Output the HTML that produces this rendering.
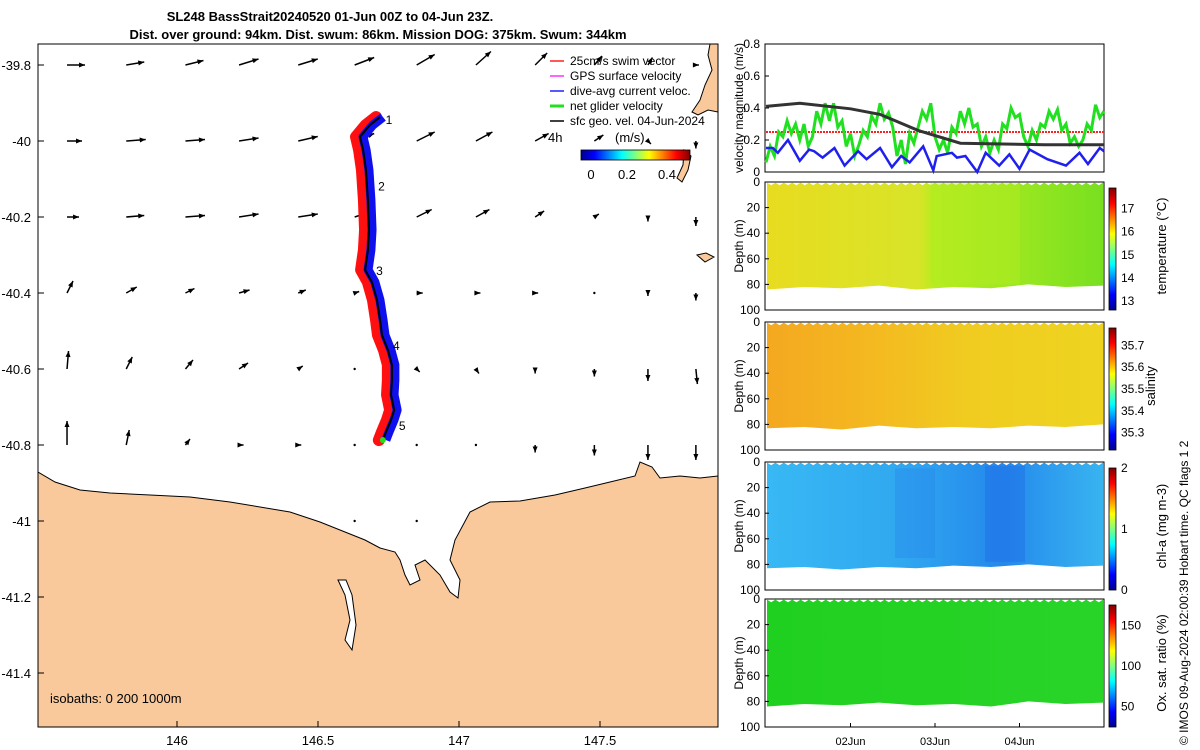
<!DOCTYPE html>
<html><head><meta charset="utf-8">
<style>
html,body{margin:0;padding:0;background:#fff;}
svg{display:block;font-family:"Liberation Sans",sans-serif;}
</style></head>
<body>
<svg id="fig" width="1200" height="750" viewBox="0 0 1200 750" xmlns="http://www.w3.org/2000/svg">
<defs>
<linearGradient id="jet" x1="0" x2="1" y1="0" y2="0">
<stop offset="0" stop-color="#00008f"/><stop offset="0.125" stop-color="#0000ff"/><stop offset="0.375" stop-color="#00ffff"/><stop offset="0.625" stop-color="#ffff00"/><stop offset="0.875" stop-color="#ff0000"/><stop offset="1" stop-color="#800000"/>
</linearGradient>
<linearGradient id="jetv" x1="0" x2="0" y1="1" y2="0">
<stop offset="0" stop-color="#00008f"/><stop offset="0.125" stop-color="#0000ff"/><stop offset="0.375" stop-color="#00ffff"/><stop offset="0.625" stop-color="#ffff00"/><stop offset="0.875" stop-color="#ff0000"/><stop offset="1" stop-color="#800000"/>
</linearGradient>
<linearGradient id="gT" x1="0" x2="1"><stop offset="0" stop-color="#e8dc20"/><stop offset="0.45" stop-color="#d8e428"/><stop offset="0.5" stop-color="#b8ec20"/><stop offset="0.7" stop-color="#a0e820"/><stop offset="1" stop-color="#78e020"/></linearGradient>
<linearGradient id="gS" x1="0" x2="1"><stop offset="0" stop-color="#f4a820"/><stop offset="0.3" stop-color="#f4b820"/><stop offset="0.6" stop-color="#f0cc20"/><stop offset="1" stop-color="#eed420"/></linearGradient>
<linearGradient id="gC" x1="0" x2="1"><stop offset="0" stop-color="#38b8f4"/><stop offset="0.4" stop-color="#30a8f0"/><stop offset="0.7" stop-color="#2488ec"/><stop offset="1" stop-color="#38b4f0"/></linearGradient>
<linearGradient id="gO" x1="0" x2="1"><stop offset="0" stop-color="#20d020"/><stop offset="1" stop-color="#28d428"/></linearGradient>
<clipPath id="mapclip"><rect x="38" y="44" width="680" height="683"/></clipPath>
</defs>
<g id="title" font-weight="bold" font-size="13" text-anchor="middle">
<text x="330" y="21">SL248 BassStrait20240520 01-Jun 00Z to 04-Jun 23Z.</text>
<text x="378" y="39">Dist. over ground: 94km. Dist. swum: 86km. Mission DOG: 375km. Swum: 344km</text>
</g>
<g id="map"></g>
<g id="vel"></g>
<g id="sections"></g>
<text transform="translate(1188,745) rotate(-90)" font-size="12">© IMOS 09-Aug-2024 02:00:39 Hobart time. QC flags 1  2</text>
</svg>
<script>
// ---- Map data ----
const lonTicks=[146,146.5,147,147.5];
const latTicks=[-39.8,-40,-40.2,-40.4,-40.6,-40.8,-41,-41.2,-41.4];
const arrowLon=[145.61,145.82,146.03,146.22,146.43,146.63,146.85,147.06,147.27,147.48,147.67,147.84];
const arrowLat=[-39.8,-40,-40.2,-40.4,-40.6,-40.8,-41];
// u,v components (m/s) per row
const arrowU=[
[0.12,0.12,0.12,0.13,0.13,0.13,0.12,0.1,0.08,0.05,0.03,0.02],
[0.1,0.13,0.13,0.13,0.13,0.13,0.12,0.11,0.09,0.06,0.02,0.0],
[0.08,0.12,0.13,0.13,0.13,0.12,0.1,0.09,0.06,0.03,0.0,0.0],
[0.04,0.07,0.06,0.07,0.05,0.03,0.04,0.03,0.02,0.0,0.0,0.0],
[0.01,0.04,0.05,0.06,0.03,0.0,0.02,0.02,0.0,0.0,0.0,0.01],
[0.0,0.02,0.03,0.03,0.02,0.0,0.0,0.0,0.0,0.0,0.0,0.0],
[0.0,0.0,0.03,0.04,0.0,0.0,0.0,0.0,0.0,0.0,0.0,0.0]];
const arrowV=[
[0.0,-0.02,-0.03,-0.04,-0.04,-0.05,-0.07,-0.09,-0.08,-0.06,-0.05,0.0],
[0.0,-0.01,-0.01,-0.02,-0.03,-0.05,-0.06,-0.06,-0.05,-0.04,0.02,0.05],
[0.0,-0.01,-0.01,-0.02,-0.02,-0.04,-0.05,-0.05,-0.04,-0.02,0.03,0.06],
[-0.08,-0.04,-0.03,-0.02,-0.02,-0.01,0.0,0.0,0.0,0.0,0.02,0.05],
[-0.12,-0.08,-0.06,-0.04,-0.02,0.0,0.02,0.03,0.03,0.05,0.08,0.1],
[-0.16,-0.1,-0.04,0.0,0.0,0.0,0.0,0.0,0.05,0.07,0.1,0.1],
[0.0,-0.1,-0.04,-0.03,0.0,0.0,0.0,0.0,0.0,0.03,0.0,0.0]];
const trackLon=[146.720,146.684,146.649,146.660,146.670,146.677,146.681,146.677,146.667,146.691,146.709,146.720,146.727,146.748,146.762,146.762,146.759,146.770,146.759,146.741,146.730];
const trackLat=[-39.937,-39.958,-39.989,-40.024,-40.076,-40.155,-40.234,-40.287,-40.339,-40.371,-40.418,-40.471,-40.511,-40.55,-40.589,-40.629,-40.668,-40.708,-40.734,-40.766,-40.787];
const markerLabels=["1","2","3","4","5"];
const markerLon=[146.74,146.713,146.706,146.766,146.787];
const markerLat=[-39.955,-40.13,-40.353,-40.55,-40.76];
// ---- velocity panel data ----
const velTicks=[0,0.2,0.4,0.6,0.8];
const dateLabels=["02Jun","03Jun","04Jun"];
const dateDays=[1,2,3];
const sfcDays=[0,0.4,1.0,1.35,1.8,2.3,2.8,3.3,4.0];
const sfcVals=[0.41,0.43,0.395,0.36,0.26,0.18,0.175,0.17,0.17];
const swimVal=0.25;
const blueDays=[0,0.08,0.14,0.26,0.4,0.51,0.57,0.67,0.81,0.93,1.09,1.19,1.35,1.49,1.6,1.7,1.86,1.98,2.02,2.2,2.26,2.36,2.5,2.6,2.76,2.88,3.0,3.12,3.33,3.55,3.71,3.81,3.95,4.0];
const blueVals=[0.15,0.15,0.12,0.2,0.07,0.14,0.13,0.09,0.15,0.04,0.13,0.08,0.15,0.03,0.1,0.06,0.16,0.01,0.1,0.12,0.09,0.1,0.0,0.12,0.04,0.11,0.02,0.14,0.08,0.04,0.12,0.05,0.15,0.13];
const greenVals=[0.06,0.16,0.1,0.25,0.22,0.32,0.24,0.3,0.2,0.3,0.16,0.22,0.38,0.3,0.43,0.32,0.43,0.28,0.32,0.16,0.24,0.1,0.17,0.26,0.22,0.35,0.3,0.43,0.33,0.37,0.28,0.1,0.2,0.05,0.24,0.18,0.28,0.38,0.33,0.43,0.22,0.14,0.2,0.12,0.28,0.24,0.38,0.3,0.4,0.28,0.3,0.16,0.22,0.12,0.2,0.14,0.3,0.27,0.4,0.34,0.36,0.22,0.16,0.26,0.2,0.3,0.28,0.38,0.33,0.39,0.26,0.3,0.18,0.22,0.16,0.2,0.3,0.26,0.42,0.34,0.38];
// ---- section panels ----
const depthTicks=[0,20,40,60,80,100];
const secNames=["temperature","salinity","chl-a","oxygen"];
const secLabels=["temperature (°C)","salinity","chl-a (mg m-3)","Ox. sat. ratio (%)"];
const cbTicks=[[13,14,15,16,17],[35.3,35.4,35.5,35.6,35.7],[0,1,2],[50,100,150]];
const cbRange=[[12.6,17.9],[35.22,35.78],[0,2],[25,175]];

const NS="http://www.w3.org/2000/svg";
function mk(tag,attrs,parent,txt){const e=document.createElementNS(NS,tag);for(const k in attrs)e.setAttribute(k,attrs[k]);if(txt!==undefined)e.textContent=txt;parent.appendChild(e);return e;}
const lx=lon=>177+(lon-146)*282;
const ly=lat=>141-(lat+40)*380;
const map=document.getElementById('map');
const mg=mk('g',{'clip-path':'url(#mapclip)'},map);
// arrows
for(let r=0;r<arrowLat.length;r++){for(let c=0;c<arrowLon.length;c++){
 const x=lx(arrowLon[c]),y=ly(arrowLat[r]);const u=arrowU[r][c],v=arrowV[r][c];
 const dx=u*150,dy=v*150;const L=Math.hypot(dx,dy);
 const g=mk('g',{},mg);
 
 
 if(L<1){mk('circle',{cx:x,cy:y,r:1.2,fill:'#000'},g);continue;}
 mk('line',{x1:x,y1:y,x2:x+dx,y2:y+dy,stroke:'#000','stroke-width':1.5},g);
 const ux=dx/L,uy=dy/L,h=6;
 mk('polygon',{points:`${x+dx},${y+dy} ${x+dx-h*ux-2.5*uy},${y+dy-h*uy+2.5*ux} ${x+dx-h*ux+2.5*uy},${y+dy-h*uy-2.5*ux}`,fill:'#000'},g);
}}
// land
const land=mk('path',{d:"M38,472 L55,482 L80,490 L110,493 L150,495 L190,497 L230,502 L260,507 L290,512 L320,522 L345,532 L365,540 L380,548 L395,552 L400,560 L405,575 L410,585 L420,580 L415,565 L425,560 L440,575 L450,592 L458,598 L460,580 L450,560 L455,540 L470,512 L490,502 L520,501 L555,495 L585,488 L610,482 L635,476 L640,462 L652,467 L660,478 L680,476 L700,478 L718,476 L718,727 L38,727 Z M338,580 L345,595 L350,620 L345,640 L352,650 L356,625 L352,595 L346,580 Z",fill:'#f9c99c',stroke:'#000','stroke-width':1},mg);


const isl=mk('path',{d:"M710,44 L718,44 L718,112 L708,110 L698,115 L692,112 L700,100 L705,85 L712,70 L708,55 Z M684,150 L691,156 L688,170 L682,182 L677,178 L683,165 Z M697,255 L706,253 L714,257 L705,262 Z",fill:'#f9c99c',stroke:'#000','stroke-width':1},mg);


// track
const ptsOff=o=>trackLon.map((lo,i)=>`${lx(lo)+o},${ly(trackLat[i])}`).join(' ');
const red=mk('polyline',{points:ptsOff(-4),fill:'none',stroke:'#ff1010','stroke-width':12,'stroke-linejoin':'round','stroke-linecap':'round'},mg);


const blue=mk('polyline',{points:ptsOff(3),fill:'none',stroke:'#1010ee','stroke-width':9,'stroke-linejoin':'round'},mg);


mk('polyline',{points:ptsOff(0),fill:'none',stroke:'#000','stroke-width':2},mg);
const gEnd=mk('circle',{cx:lx(trackLon[trackLon.length-1]),cy:ly(trackLat[trackLat.length-1]),r:3,fill:'#20e020'},mg);


markerLabels.forEach((t,i)=>{const e=mk('text',{x:lx(markerLon[i]),y:ly(markerLat[i]),'font-size':12},mg,t);
 
 });
mk('rect',{x:38,y:44,width:680,height:683,fill:'none',stroke:'#000','stroke-width':1},map);
lonTicks.forEach(t=>{mk('line',{x1:lx(t),x2:lx(t),y1:727,y2:721,stroke:'#000'},map);
 const e=mk('text',{x:lx(t),y:745,'font-size':13,'text-anchor':'middle'},map,String(t));
 });
latTicks.forEach(t=>{mk('line',{x1:38,x2:44,y1:ly(t),y2:ly(t),stroke:'#000'},map);
 const e=mk('text',{x:31,y:ly(t)+5,'font-size':13,'text-anchor':'end'},map,String(t));
 });
const iso=mk('text',{x:50,y:703,'font-size':13},map,'isobaths: 0   200  1000m');

// legend
const leg=mk('g',{'font-size':12},map);


const legT=["25cm/s swim vector","GPS surface velocity","dive-avg current veloc.","net glider velocity","sfc geo. vel. 04-Jun-2024"];
const legC=["#ff2020","#ff30ff","#2020ff","#20e020","#000"];
legT.forEach((t,i)=>{const y=65+i*15;
 mk('line',{x1:550,x2:564,y1:y-4,y2:y-4,stroke:legC[i],'stroke-width':i==3?3:1.5},leg);
 mk('text',{x:570,y:y},leg,t);});
mk('text',{x:548,y:142,'font-size':13},leg,'4h');
mk('text',{x:615,y:142,'font-size':13},leg,'(m/s)');
mk('rect',{x:581,y:150,width:109,height:10,fill:'url(#jet)',stroke:'#000','stroke-width':0.8},leg);
[[591,'0'],[627,'0.2'],[667,'0.4']].forEach(a=>mk('text',{x:a[0],y:179,'font-size':13,'text-anchor':'middle'},leg,a[1]));

// velocity panel
const vel=document.getElementById('vel');
const vx=d=>766+d*84.5, vy=v=>172-v*160;
mk('rect',{x:765,y:44,width:339,height:128,fill:'#fff',stroke:'#000'},vel);
velTicks.forEach(t=>{mk('line',{x1:765,x2:769,y1:vy(t),y2:vy(t),stroke:'#000'},vel);
 const e=mk('text',{x:760,y:vy(t)+4,'font-size':12,'text-anchor':'end'},vel,String(t));
 });
mk('text',{transform:'translate(743,108) rotate(-90)','font-size':12,'text-anchor':'middle'},vel,'velocity magnitude (m/s)');
const swim=mk('line',{x1:vx(0),x2:vx(4),y1:vy(swimVal),y2:vy(swimVal),stroke:'#ff2020','stroke-width':2,'stroke-dasharray':'2 1'},vel);

const gl=mk('polyline',{points:greenVals.map((v,i)=>`${vx(i*4/(greenVals.length-1))},${vy(v)}`).join(' '),fill:'none',stroke:'#20e020','stroke-width':3},vel);

const bl=mk('polyline',{points:blueDays.map((d,i)=>`${vx(d)},${vy(blueVals[i])}`).join(' '),fill:'none',stroke:'#2020ee','stroke-width':2.5},vel);

const kl=mk('polyline',{points:sfcDays.map((d,i)=>`${vx(d)},${vy(sfcVals[i])}`).join(' '),fill:'none',stroke:'#333','stroke-width':3},vel);


// sections
const sec=document.getElementById('sections');
const panTop=[182,322,462,599];
const fills=['url(#gT)','url(#gS)','url(#gC)','url(#gO)'];
const bottoms=[[84,82,83,81,84,82,83,80,82,81],[83,82,84,81,83,82,83,81,82,80],[83,82,84,82,83,81,82,80,82,81],[84,82,83,81,83,82,84,80,82,81]];
for(let p=0;p<4;p++){
 const t=panTop[p],H=128,dy=d=>t+d/100*H;
 const g=mk('g',{},sec);
 
 
 mk('rect',{x:765,y:t,width:339,height:H,fill:'#fff',stroke:'#000'},g);
 let d=`M767,${dy(1)} `;
 for(let i=0;i<=80;i++){d+=`L${767+i*4.2},${dy(i%2?2.5:0.5)} `;}
 const b=bottoms[p];
 for(let i=b.length-1;i>=0;i--){d+=`L${767+i*(336/(b.length-1))},${dy(b[i])} `;}
 d+='Z';
 mk('path',{d:d,fill:fills[p]},g);
 if(p==2){mk('rect',{x:985,y:dy(3),width:40,height:dy(78)-dy(3),fill:'#2070e8',opacity:0.5},g);
  mk('rect',{x:895,y:dy(5),width:40,height:dy(75)-dy(5),fill:'#2888ec',opacity:0.4},g);}
 if(p==0){mk('rect',{x:930,y:dy(1),width:90,height:dy(80)-dy(1),fill:'#b0ec20',opacity:0.5},g);}
 depthTicks.forEach(v=>{mk('line',{x1:765,x2:769,y1:dy(v),y2:dy(v),stroke:'#000'},g);
  mk('text',{x:760,y:dy(v)+4,'font-size':12,'text-anchor':'end'},g,String(v));});
 mk('text',{transform:`translate(743,${t+64}) rotate(-90)`,'font-size':12,'text-anchor':'middle'},g,'Depth (m)');
 const cb=mk('g',{},g);
 
 
 mk('rect',{x:1109,y:t+6,width:7,height:H-6,fill:'url(#jetv)',stroke:'#000','stroke-width':0.8},cb);
 const r=cbRange[p],cy=v=>t+H-(v-r[0])/(r[1]-r[0])*(H-6);
 cbTicks[p].forEach(v=>mk('text',{x:1121,y:cy(v)+4,'font-size':12},cb,String(v)));
 mk('text',{transform:`translate(${p==1?1155:1166},${t+64}) rotate(-90)`,'font-size':13,'text-anchor':'middle'},cb,secLabels[p]);
}
dateLabels.forEach((l,i)=>{const e=mk('text',{x:vx(dateDays[i]),y:745,'font-size':11,'text-anchor':'middle'},sec,l);
 
 mk('line',{x1:vx(dateDays[i]),x2:vx(dateDays[i]),y1:727,y2:723,stroke:'#000'},sec);});
</script>
</body></html>
